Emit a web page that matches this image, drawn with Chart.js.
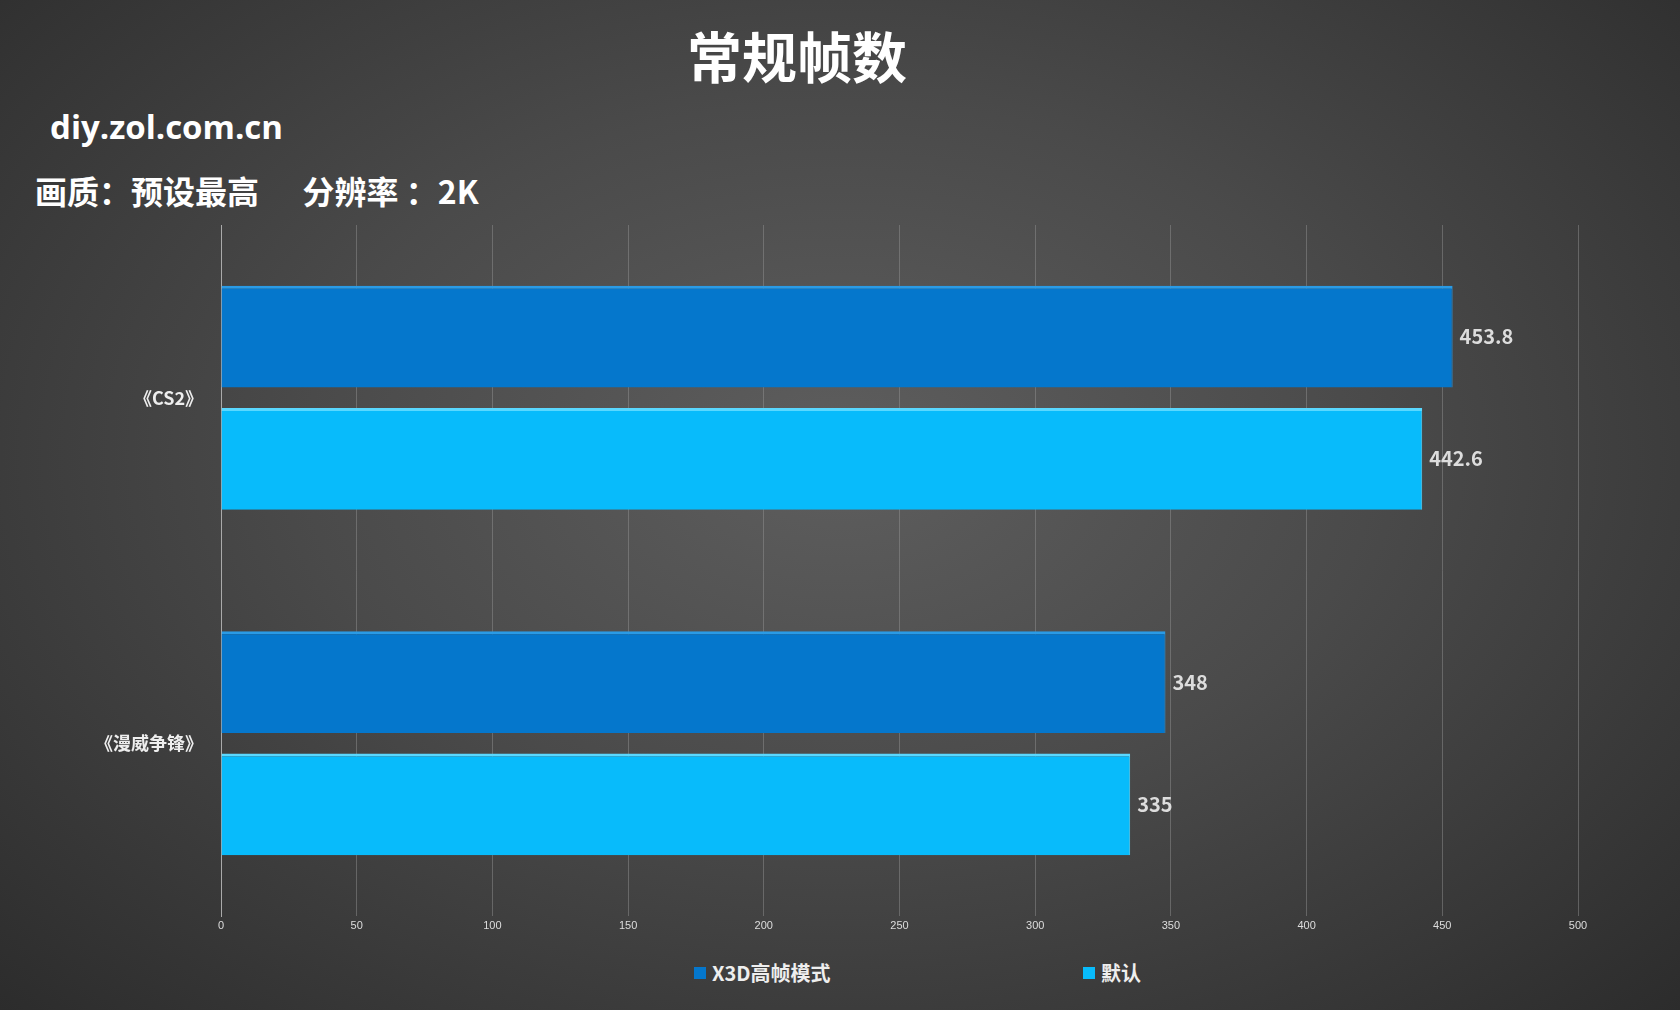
<!DOCTYPE html>
<html><head><meta charset="utf-8">
<script src="https://cdn.jsdelivr.net/npm/chart.js@4"></script>
<style>
body{margin:0;width:1680px;height:1010px;overflow:hidden;background:radial-gradient(ellipse at 50% 45%,#5e5e5e 0%,#4a4a4a 45%,#2c2c2c 100%);font-family:"Noto Sans CJK SC","Noto Sans",sans-serif;color:#fff;position:relative}
.t{position:absolute;font-weight:bold;white-space:pre}
#wrap{position:absolute;left:0;top:0;width:1680px;height:945px}
#leg{position:absolute;top:958px;left:0;width:1680px;font-size:20px;font-weight:bold;color:#eee}
.li{position:absolute;display:flex;align-items:center}
.sw{width:12px;height:12px;margin-right:6px}
</style></head><body>
<div class="t" style="left:0;width:1594px;text-align:center;top:14px;font-size:55px">常规帧数</div>
<div class="t" style="left:50px;top:104px;font-size:33px;font-family:'Open Sans','Noto Sans',sans-serif">diy.zol.com.cn</div>
<div class="t" style="left:35px;top:167px;font-size:32px">画质：预设最高      分辨率 ：2K</div>
<div id="wrap"><canvas id="c"></canvas></div>
<div id="leg">
<div class="li" style="left:694px"><div class="sw" style="background:#0577cc"></div>X3D高帧模式</div>
<div class="li" style="left:1083px"><div class="sw" style="background:#08bbfb"></div>默认</div>
</div>
<script>
const categories=['《CS2》','《漫威争锋》'];
const seriesNames=['X3D高帧模式','默认'];
const x3d=[453.8,348];
const def=[442.6,335];
const labelPlugin={id:'lbl',afterDatasetsDraw(ch){const c=ch.ctx;c.save();c.font='bold 20px "Noto Sans CJK SC"';c.fillStyle='#ddd';c.textBaseline='middle';
ch.data.datasets.forEach((d,i)=>{ch.getDatasetMeta(i).data.forEach((b,j)=>{c.fillText(String(d.data[j]),b.x+7,b.y);});});c.restore();}};
new Chart(document.getElementById('c'),{type:'bar',
data:{labels:categories,datasets:[
{label:seriesNames[0],data:x3d,backgroundColor:'#0577cc',borderColor:'#2a9be6',borderWidth:{top:3,right:1},borderSkipped:'left'},
{label:seriesNames[1],data:def,backgroundColor:'#08bbfb',borderColor:'#5ad8ff',borderWidth:{top:3,right:1},borderSkipped:'left'}]},
options:{indexAxis:'y',responsive:true,maintainAspectRatio:false,animation:false,
layout:{padding:{top:225,right:102,left:0,bottom:0}},
categoryPercentage:0.708,barPercentage:0.833,
plugins:{legend:{display:false},tooltip:{enabled:false}},
scales:{
x:{min:0,max:500,ticks:{stepSize:50,color:'#ddd',font:{size:11}},grid:{color:'rgba(150,150,150,0.45)',drawTicks:false},border:{display:false},afterFit(a){a.height=29;}},
y:{ticks:{color:'#eee',font:{size:18,weight:'bold',family:'Noto Sans CJK SC'},padding:10},grid:{display:false},border:{color:'#aaa'},afterFit(a){a.width=221;}}
}},plugins:[labelPlugin]});
</script></body></html>
